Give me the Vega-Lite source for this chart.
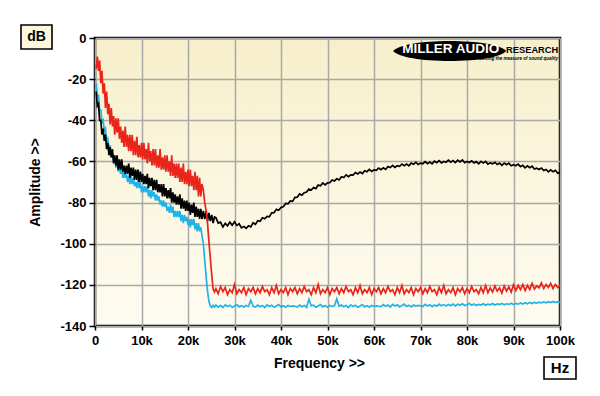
{
"$schema": "https://vega.github.io/schema/vega-lite/v6.json",
"width": 465, "height": 288,
"autosize": {"type": "none"},
"padding": {"left": 95, "top": 38, "right": 40, "bottom": 70},
"background": "#ffffff",
"data": {"values": [
{"f":250,"b":-26,"r":-15,"c":-22},{"f":500,"b":-33,"r":-9,"c":-28},{"f":750,"b":-32,"r":-16,"c":-28},{"f":1000,"b":-40,"r":-11,"c":-35},
{"f":1250,"b":-40,"r":-22,"c":-35},{"f":1500,"b":-47,"r":-16,"c":-41},{"f":1750,"b":-44,"r":-27,"c":-40},{"f":2000,"b":-50,"r":-22,"c":-45},
{"f":2250,"b":-47,"r":-34,"c":-44},{"f":2500,"b":-54,"r":-26,"c":-50},{"f":2750,"b":-51,"r":-37,"c":-49},{"f":3000,"b":-57,"r":-32,"c":-54},
{"f":3250,"b":-53,"r":-42,"c":-52},{"f":3500,"b":-58,"r":-34,"c":-58},{"f":3750,"b":-54,"r":-43,"c":-56},{"f":4000,"b":-61,"r":-38,"c":-60},
{"f":4250,"b":-57,"r":-47,"c":-58},{"f":4500,"b":-62,"r":-39,"c":-63},{"f":4750,"b":-57,"r":-46,"c":-61},{"f":5000,"b":-64,"r":-39,"c":-65},
{"f":5250,"b":-59,"r":-49,"c":-62},{"f":5500,"b":-64,"r":-43,"c":-66},{"f":5750,"b":-59,"r":-51,"c":-63},{"f":6000,"b":-65,"r":-45,"c":-68},
{"f":6250,"b":-62,"r":-53,"c":-65},{"f":6500,"b":-66,"r":-43,"c":-68},{"f":6750,"b":-62,"r":-53,"c":-66},{"f":7000,"b":-66,"r":-47,"c":-70},
{"f":7250,"b":-61,"r":-55,"c":-67},{"f":7500,"b":-68,"r":-47,"c":-71},{"f":7750,"b":-63,"r":-55,"c":-67},{"f":8000,"b":-67,"r":-47,"c":-71},
{"f":8250,"b":-63,"r":-57,"c":-68},{"f":8500,"b":-69,"r":-50,"c":-72},{"f":8750,"b":-64,"r":-57,"c":-70},{"f":9000,"b":-69,"r":-48,"c":-73},
{"f":9250,"b":-64,"r":-58,"c":-69},{"f":9500,"b":-70,"r":-52,"c":-73},{"f":9750,"b":-65,"r":-58,"c":-70},{"f":10000,"b":-70,"r":-51,"c":-75},
{"f":10250,"b":-66,"r":-59,"c":-72},{"f":10500,"b":-71,"r":-51,"c":-75},{"f":10750,"b":-67,"r":-59,"c":-72},{"f":11000,"b":-71,"r":-54,"c":-75},
{"f":11250,"b":-66,"r":-61,"c":-72},{"f":11500,"b":-73,"r":-51,"c":-77},{"f":11750,"b":-68,"r":-60,"c":-74},{"f":12000,"b":-72,"r":-55,"c":-78},
{"f":12250,"b":-68,"r":-62,"c":-74},{"f":12500,"b":-74,"r":-54,"c":-77},{"f":12750,"b":-69,"r":-62,"c":-75},{"f":13000,"b":-74,"r":-54,"c":-79},
{"f":13250,"b":-69,"r":-63,"c":-76},{"f":13500,"b":-75,"r":-57,"c":-79},{"f":13750,"b":-71,"r":-63,"c":-77},{"f":14000,"b":-75,"r":-54,"c":-81},
{"f":14250,"b":-71,"r":-64,"c":-79},{"f":14500,"b":-77,"r":-58,"c":-82},{"f":14750,"b":-71,"r":-64,"c":-79},{"f":15000,"b":-77,"r":-57,"c":-82},
{"f":15250,"b":-73,"r":-65,"c":-80},{"f":15500,"b":-78,"r":-57,"c":-84},{"f":15750,"b":-74,"r":-65,"c":-82},{"f":16000,"b":-78,"r":-60,"c":-85},
{"f":16250,"b":-73,"r":-67,"c":-81},{"f":16500,"b":-80,"r":-57,"c":-85},{"f":16750,"b":-75,"r":-67,"c":-82},{"f":17000,"b":-80,"r":-61,"c":-87},
{"f":17250,"b":-76,"r":-68,"c":-84},{"f":17500,"b":-81,"r":-61,"c":-87},{"f":17750,"b":-77,"r":-68,"c":-84},{"f":18000,"b":-81,"r":-61,"c":-87},
{"f":18250,"b":-76,"r":-70,"c":-84},{"f":18500,"b":-83,"r":-63,"c":-89},{"f":18750,"b":-78,"r":-70,"c":-86},{"f":19000,"b":-83,"r":-61,"c":-90},
{"f":19250,"b":-79,"r":-71,"c":-86},{"f":19500,"b":-84,"r":-65,"c":-89},{"f":19750,"b":-79,"r":-71,"c":-87},{"f":20000,"b":-84,"r":-64,"c":-91},
{"f":20250,"b":-80,"r":-72,"c":-88},{"f":20500,"b":-86,"r":-64,"c":-92},{"f":20750,"b":-81,"r":-72,"c":-88},{"f":21000,"b":-85,"r":-67,"c":-91},
{"f":21250,"b":-80,"r":-74,"c":-88},{"f":21500,"b":-87,"r":-65,"c":-93},{"f":21750,"b":-82,"r":-74,"c":-90},{"f":22000,"b":-87,"r":-67,"c":-94},
{"f":22250,"b":-83,"r":-77,"c":-90},{"f":22500,"b":-88,"r":-68,"c":-94},{"f":22750,"b":-83,"r":-77,"c":-92},{"f":23000,"b":-88,"r":-71,"c":-96},
{"f":23300,"b":-84,"r":-74,"c":-100},{"f":23600,"b":-88,"r":-80,"c":-108},{"f":23900,"b":-84,"r":-84,"c":-116},{"f":24200,"b":-89,"r":-90,"c":-123},
{"f":24500,"b":-85,"r":-99,"c":-128},{"f":24800,"b":-89,"r":-107,"c":-130.3},{"f":25100,"b":-86,"r":-115,"c":-131},{"f":25400,"b":-90,"r":-122,"c":-130},
{"f":25700,"b":-87,"r":-123.5,"c":-130.8},
{"f":26000,"b":-87.3,"r":-121.8,"c":-129.8},{"f":26500,"b":-90.0,"r":-124.3,"c":-130.8},{"f":27000,"b":-89.5,"r":-120.8,"c":-130.0},{"f":27500,"b":-91.9,"r":-123.3,"c":-131.0},
{"f":28000,"b":-90.1,"r":-121.3,"c":-129.7},{"f":28500,"b":-91.3,"r":-124.8,"c":-130.5},{"f":29000,"b":-89.5,"r":-122.3,"c":-129.9},{"f":29500,"b":-91.0,"r":-123.8,"c":-130.9},
{"f":30000,"b":-89.3,"r":-119.8,"c":-130.3},{"f":30500,"b":-91.1,"r":-124.3,"c":-129.6},{"f":31000,"b":-90.3,"r":-122.3,"c":-130.7},{"f":31500,"b":-92.3,"r":-123.8,"c":-130.1},
{"f":32000,"b":-91.6,"r":-121.3,"c":-130.9},{"f":32500,"b":-92.5,"r":-124.8,"c":-130.0},{"f":33000,"b":-91.3,"r":-121.8,"c":-130.5},{"f":33500,"b":-91.8,"r":-123.3,"c":-127.5},
{"f":34000,"b":-89.8,"r":-121.3,"c":-130.4},{"f":34500,"b":-90.6,"r":-124.3,"c":-130.8},{"f":35000,"b":-88.8,"r":-121.8,"c":-129.8},{"f":35500,"b":-89.1,"r":-123.8,"c":-130.6},
{"f":36000,"b":-87.4,"r":-120.8,"c":-130.0},{"f":36500,"b":-87.9,"r":-123.3,"c":-131.0},{"f":37000,"b":-86.7,"r":-122.3,"c":-129.7},{"f":37500,"b":-86.9,"r":-124.8,"c":-130.5},
{"f":38000,"b":-85.0,"r":-121.3,"c":-129.9},{"f":38500,"b":-84.9,"r":-123.8,"c":-130.9},{"f":39000,"b":-83.3,"r":-120.3,"c":-130.3},{"f":39500,"b":-83.7,"r":-124.3,"c":-129.6},
{"f":40000,"b":-82.4,"r":-122.3,"c":-130.7},{"f":40500,"b":-82.0,"r":-123.8,"c":-130.1},{"f":41000,"b":-80.4,"r":-121.3,"c":-130.9},{"f":41500,"b":-80.6,"r":-124.8,"c":-130.0},
{"f":42000,"b":-79.2,"r":-121.8,"c":-130.5},{"f":42500,"b":-79.4,"r":-123.3,"c":-130.2},{"f":43000,"b":-77.5,"r":-121.3,"c":-130.4},{"f":43500,"b":-77.4,"r":-124.3,"c":-130.8},
{"f":44000,"b":-75.8,"r":-121.8,"c":-129.8},{"f":44500,"b":-76.4,"r":-123.8,"c":-130.6},{"f":45000,"b":-75.2,"r":-120.8,"c":-130.0},{"f":45500,"b":-74.9,"r":-123.3,"c":-131.0},
{"f":46000,"b":-73.4,"r":-122.3,"c":-127.0},{"f":46500,"b":-73.9,"r":-124.8,"c":-130.2},{"f":47000,"b":-72.7,"r":-121.3,"c":-129.9},{"f":47500,"b":-73.2,"r":-123.8,"c":-130.9},
{"f":48000,"b":-71.5,"r":-119.8,"c":-130.3},{"f":48500,"b":-71.8,"r":-124.3,"c":-129.6},{"f":49000,"b":-70.5,"r":-122.3,"c":-130.7},{"f":49500,"b":-71.4,"r":-123.8,"c":-130.1},
{"f":50000,"b":-70.4,"r":-121.3,"c":-130.9},{"f":50500,"b":-70.3,"r":-124.8,"c":-130.0},{"f":51000,"b":-69.0,"r":-121.8,"c":-130.5},{"f":51500,"b":-69.5,"r":-123.3,"c":-130.2},
{"f":52000,"b":-68.4,"r":-121.3,"c":-126.8},{"f":52500,"b":-69.0,"r":-124.3,"c":-130.4},{"f":53000,"b":-67.4,"r":-121.8,"c":-129.8},{"f":53500,"b":-67.8,"r":-123.8,"c":-130.6},
{"f":54000,"b":-66.5,"r":-120.8,"c":-130.0},{"f":54500,"b":-67.4,"r":-123.3,"c":-131.0},{"f":55000,"b":-66.5,"r":-122.3,"c":-129.7},{"f":55500,"b":-66.6,"r":-124.8,"c":-130.5},
{"f":56000,"b":-65.4,"r":-121.3,"c":-129.9},{"f":56500,"b":-66.1,"r":-123.8,"c":-130.9},{"f":57000,"b":-65.2,"r":-120.3,"c":-130.3},{"f":57500,"b":-65.9,"r":-124.3,"c":-129.6},
{"f":58000,"b":-64.5,"r":-122.3,"c":-130.7},{"f":58500,"b":-65.0,"r":-123.8,"c":-130.1},{"f":59000,"b":-63.9,"r":-121.3,"c":-130.9},{"f":59500,"b":-64.9,"r":-124.8,"c":-130.0},
{"f":60000,"b":-64.1,"r":-121.8,"c":-130.5},{"f":60500,"b":-64.3,"r":-123.3,"c":-130.2},{"f":61000,"b":-63.2,"r":-121.3,"c":-130.4},{"f":61500,"b":-64.0,"r":-124.3,"c":-130.6},
{"f":62000,"b":-63.1,"r":-121.8,"c":-129.6},{"f":62500,"b":-63.9,"r":-123.8,"c":-130.4},{"f":63000,"b":-62.5,"r":-120.8,"c":-129.8},{"f":63500,"b":-63.0,"r":-123.3,"c":-130.8},
{"f":64000,"b":-61.9,"r":-122.3,"c":-129.5},{"f":64500,"b":-62.9,"r":-124.8,"c":-130.3},{"f":65000,"b":-62.1,"r":-121.3,"c":-129.7},{"f":65500,"b":-62.4,"r":-123.8,"c":-130.7},
{"f":66000,"b":-61.3,"r":-120.3,"c":-130.1},{"f":66500,"b":-62.1,"r":-124.3,"c":-129.4},{"f":67000,"b":-61.3,"r":-122.3,"c":-130.5},{"f":67500,"b":-62.1,"r":-123.8,"c":-129.9},
{"f":68000,"b":-60.8,"r":-121.3,"c":-130.7},{"f":68500,"b":-61.4,"r":-124.8,"c":-129.8},{"f":69000,"b":-60.4,"r":-121.8,"c":-130.3},{"f":69500,"b":-61.5,"r":-123.3,"c":-130.0},
{"f":70000,"b":-60.8,"r":-121.3,"c":-130.2},{"f":70500,"b":-61.1,"r":-124.3,"c":-130.5},{"f":71000,"b":-60.1,"r":-121.8,"c":-129.5},{"f":71500,"b":-61.1,"r":-123.8,"c":-130.3},
{"f":72000,"b":-60.3,"r":-120.8,"c":-129.7},{"f":72500,"b":-61.2,"r":-123.3,"c":-130.6},{"f":73000,"b":-59.9,"r":-122.3,"c":-129.8},{"f":73500,"b":-60.6,"r":-124.8,"c":-130.4},
{"f":74000,"b":-59.6,"r":-121.3,"c":-129.4},{"f":74500,"b":-60.7,"r":-123.8,"c":-130.2},{"f":75000,"b":-60.0,"r":-120.3,"c":-129.6},{"f":75500,"b":-60.4,"r":-124.3,"c":-130.3},
{"f":76000,"b":-59.4,"r":-122.3,"c":-129.5},{"f":76500,"b":-60.4,"r":-123.8,"c":-130.1},{"f":77000,"b":-59.6,"r":-121.3,"c":-129.3},{"f":77500,"b":-60.6,"r":-124.8,"c":-130.2},
{"f":78000,"b":-59.4,"r":-121.8,"c":-129.4},{"f":78500,"b":-60.2,"r":-123.3,"c":-129.9},{"f":79000,"b":-59.3,"r":-121.3,"c":-129.2},{"f":79500,"b":-60.6,"r":-124.3,"c":-130.0},
{"f":80000,"b":-60.0,"r":-121.8,"c":-129.6},{"f":80500,"b":-60.5,"r":-123.8,"c":-129.1},{"f":81000,"b":-59.7,"r":-120.8,"c":-129.9},{"f":81500,"b":-60.7,"r":-123.3,"c":-129.3},
{"f":82000,"b":-60.1,"r":-122.3,"c":-130.0},{"f":82500,"b":-61.2,"r":-124.3,"c":-129.5},{"f":83000,"b":-60.0,"r":-121.3,"c":-129.8},{"f":83500,"b":-60.8,"r":-123.8,"c":-129.2},
{"f":84000,"b":-60.0,"r":-120.3,"c":-129.9},{"f":84500,"b":-61.3,"r":-123.8,"c":-129.4},{"f":85000,"b":-60.7,"r":-121.5,"c":-129.7},{"f":85500,"b":-61.2,"r":-123.5,"c":-129.1},
{"f":86000,"b":-60.4,"r":-120.5,"c":-129.8},{"f":86500,"b":-61.5,"r":-123.0,"c":-129.3},{"f":87000,"b":-60.8,"r":-121.5,"c":-129.6},{"f":87500,"b":-61.9,"r":-124.0,"c":-129.0},
{"f":88000,"b":-60.8,"r":-120.5,"c":-129.7},{"f":88500,"b":-61.6,"r":-123.0,"c":-129.2},{"f":89000,"b":-60.8,"r":-121.0,"c":-129.5},{"f":89500,"b":-62.1,"r":-123.5,"c":-128.9},
{"f":90000,"b":-61.6,"r":-120.0,"c":-129.6},{"f":90500,"b":-62.1,"r":-122.8,"c":-129.0},{"f":91000,"b":-61.3,"r":-120.3,"c":-129.4},{"f":91500,"b":-62.5,"r":-122.3,"c":-128.8},
{"f":92000,"b":-61.9,"r":-119.8,"c":-129.3},{"f":92500,"b":-63.1,"r":-122.8,"c":-128.7},{"f":93000,"b":-62.1,"r":-120.3,"c":-129.2},{"f":93500,"b":-63.0,"r":-122.3,"c":-128.6},
{"f":94000,"b":-62.3,"r":-119.3,"c":-129.1},{"f":94500,"b":-63.7,"r":-122.0,"c":-128.5},{"f":95000,"b":-63.3,"r":-120.5,"c":-128.9},{"f":95500,"b":-63.9,"r":-121.5,"c":-128.4},
{"f":96000,"b":-63.2,"r":-119.0,"c":-128.8},{"f":96500,"b":-64.4,"r":-121.8,"c":-128.3},{"f":97000,"b":-63.9,"r":-119.8,"c":-128.7},{"f":97500,"b":-65.1,"r":-121.3,"c":-128.2},
{"f":98000,"b":-64.1,"r":-119.3,"c":-128.6},{"f":98500,"b":-65.0,"r":-121.8,"c":-128.1},{"f":99000,"b":-64.3,"r":-119.8,"c":-128.5},{"f":99500,"b":-65.7,"r":-121.3,"c":-128.3},
{"f":100000,"b":-65.3,"r":-120.3,"c":-128.6}
]},
"layer": [
{"mark": {"type": "line", "color": "#1fb3e8", "strokeWidth": 1.7},
 "encoding": {
  "x": {"field": "f", "type": "quantitative", "scale": {"domain": [0, 100000], "nice": false, "zero": false}, "title": "Frequency >>",
        "axis": {"values": [0,10000,20000,30000,40000,50000,60000,70000,80000,90000,100000], "labelExpr": "datum.value == 0 ? '0' : (datum.value / 1000) + 'k'", "labelFlush": false, "labelOverlap": false, "titleX": 224}},
  "y": {"field": "c", "type": "quantitative", "scale": {"domain": [-140, 0], "nice": false, "zero": false}, "title": "Amplitude >>",
        "axis": {"values": [-140,-120,-100,-80,-60,-40,-20,0], "labelExpr": "'' + datum.value", "labelOverlap": false}}
 }},
{"mark": {"type": "line", "color": "#000000", "strokeWidth": 1.7},
 "encoding": {
  "x": {"field": "f", "type": "quantitative", "scale": {"domain": [0, 100000], "nice": false, "zero": false}, "title": "Frequency >>"},
  "y": {"field": "b", "type": "quantitative", "scale": {"domain": [-140, 0], "nice": false, "zero": false}, "title": "Amplitude >>"}
 }},
{"mark": {"type": "line", "color": "#e8241b", "strokeWidth": 1.7},
 "encoding": {
  "x": {"field": "f", "type": "quantitative", "scale": {"domain": [0, 100000], "nice": false, "zero": false}, "title": "Frequency >>"},
  "y": {"field": "r", "type": "quantitative", "scale": {"domain": [-140, 0], "nice": false, "zero": false}, "title": "Amplitude >>"}
 }},
{"data": {"values": [{}]},
 "mark": {"type": "point", "shape": "M -1 0 C -0.9 -0.11 -0.5 -0.177 0 -0.177 C 0.5 -0.177 0.9 -0.11 1 0 C 0.9 0.11 0.5 0.177 0 0.177 C -0.5 0.177 -0.9 0.11 -1 0 Z", "size": 12769, "filled": true, "color": "#000000", "opacity": 1, "strokeWidth": 0},
 "encoding": {
  "x": {"datum": 76280, "type": "quantitative", "scale": {"domain": [0, 100000], "nice": false, "zero": false}, "title": "Frequency >>"},
  "y": {"datum": -6.32, "type": "quantitative", "scale": {"domain": [-140, 0], "nice": false, "zero": false}, "title": "Amplitude >>"}
 }},
{"data": {"values": [{}]},
 "mark": {"type": "text", "text": "MILLER AUDIO", "font": "Liberation Sans", "fontWeight": "bold", "fontSize": 13.5, "color": "#ffffff", "align": "center", "baseline": "alphabetic"},
 "encoding": {
  "x": {"datum": 76500, "type": "quantitative", "scale": {"domain": [0, 100000], "nice": false, "zero": false}, "title": "Frequency >>"},
  "y": {"datum": -7.15, "type": "quantitative", "scale": {"domain": [-140, 0], "nice": false, "zero": false}, "title": "Amplitude >>"}
 }},
{"data": {"values": [{}]},
 "mark": {"type": "text", "text": "RESEARCH", "font": "Liberation Sans", "fontWeight": "bold", "fontSize": 9.3, "color": "#000000", "align": "left", "baseline": "alphabetic"},
 "encoding": {
  "x": {"datum": 88400, "type": "quantitative", "scale": {"domain": [0, 100000], "nice": false, "zero": false}, "title": "Frequency >>"},
  "y": {"datum": -7.15, "type": "quantitative", "scale": {"domain": [-140, 0], "nice": false, "zero": false}, "title": "Amplitude >>"}
 }},
{"data": {"values": [{}]},
 "mark": {"type": "text", "text": "Getting the measure of sound quality", "font": "Liberation Sans", "fontWeight": "bold", "fontStyle": "italic", "fontSize": 4.5, "color": "#000000", "align": "right", "baseline": "alphabetic"},
 "encoding": {
  "x": {"datum": 99570, "type": "quantitative", "scale": {"domain": [0, 100000], "nice": false, "zero": false}, "title": "Frequency >>"},
  "y": {"datum": -10.6, "type": "quantitative", "scale": {"domain": [-140, 0], "nice": false, "zero": false}, "title": "Amplitude >>"}
 }},
{"data": {"values": [{}]},
 "mark": {"type": "rect", "fill": "#fcf7dc", "stroke": "#000000", "strokeWidth": 1.6},
 "encoding": {
  "x": {"datum": -15914, "type": "quantitative", "scale": {"domain": [0, 100000], "nice": false, "zero": false}, "title": "Frequency >>"},
  "x2": {"datum": -9247},
  "y": {"datum": 6.32, "type": "quantitative", "scale": {"domain": [-140, 0], "nice": false, "zero": false}, "title": "Amplitude >>"},
  "y2": {"datum": -5.35}
 }},
{"data": {"values": [{}]},
 "mark": {"type": "text", "text": "dB", "font": "Liberation Sans", "fontWeight": "bold", "fontSize": 14, "color": "#000000", "align": "center", "baseline": "middle"},
 "encoding": {
  "x": {"datum": -12581, "type": "quantitative", "scale": {"domain": [0, 100000], "nice": false, "zero": false}, "title": "Frequency >>"},
  "y": {"datum": 0.49, "type": "quantitative", "scale": {"domain": [-140, 0], "nice": false, "zero": false}, "title": "Amplitude >>"}
 }},
{"data": {"values": [{}]},
 "mark": {"type": "rect", "fill": "#ffffff", "stroke": "#000000", "strokeWidth": 1.6},
 "encoding": {
  "x": {"datum": 96560, "type": "quantitative", "scale": {"domain": [0, 100000], "nice": false, "zero": false}, "title": "Frequency >>"},
  "x2": {"datum": 103440},
  "y": {"datum": -155.07, "type": "quantitative", "scale": {"domain": [-140, 0], "nice": false, "zero": false}, "title": "Amplitude >>"},
  "y2": {"datum": -165.76}
 }},
{"data": {"values": [{}]},
 "mark": {"type": "text", "text": "Hz", "font": "Liberation Sans", "fontWeight": "bold", "fontSize": 15, "color": "#000000", "align": "center", "baseline": "middle"},
 "encoding": {
  "x": {"datum": 100000, "type": "quantitative", "scale": {"domain": [0, 100000], "nice": false, "zero": false}, "title": "Frequency >>"},
  "y": {"datum": -160.4, "type": "quantitative", "scale": {"domain": [-140, 0], "nice": false, "zero": false}, "title": "Amplitude >>"}
 }}
],
"config": {
 "view": {"fill": {"gradient": "linear", "x1": 0, "y1": 0, "x2": 0, "y2": 1, "stops": [{"offset": 0, "color": "#f7efcb"}, {"offset": 1, "color": "#fefcf1"}]}, "stroke": "#000000", "strokeWidth": 2.5},
 "axis": {"labelFont": "Liberation Sans", "labelFontWeight": "bold", "labelFontSize": 13, "labelColor": "#000000",
          "titleFont": "Liberation Sans", "titleFontWeight": "bold", "titleFontSize": 14, "titleColor": "#000000",
          "grid": true, "gridColor": "#a9a9a9", "gridWidth": 1.5, "gridOpacity": 1, "domain": false,
          "tickColor": "#000000", "tickWidth": 1.5},
 "axisX": {"tickSize": 4, "labelPadding": 4, "titlePadding": 9},
 "axisY": {"tickSize": 6, "labelPadding": 3, "titlePadding": 17}
}
}
